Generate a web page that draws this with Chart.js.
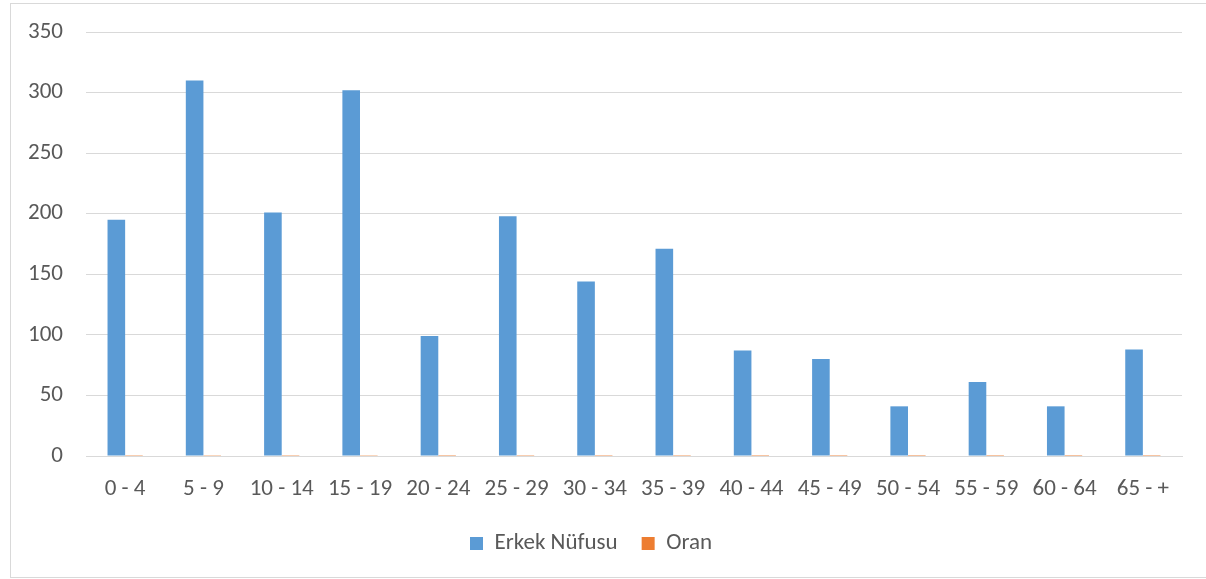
<!DOCTYPE html>
<html>
<head>
<meta charset="utf-8">
<script src="https://cdn.jsdelivr.net/npm/chart.js@4/dist/chart.umd.min.js"></script>
<style>
html,body{margin:0;padding:0;background:#fff;}
#wrap{position:relative;width:1206px;height:579px;}
#frame{position:absolute;left:10px;top:3px;width:1200px;height:575px;border:1px solid #d9d9d9;box-sizing:border-box;}
canvas{position:absolute;left:0;top:0;}
</style>
</head>
<body>
<div id="wrap">
<div id="frame"></div>
<canvas id="c" width="1206" height="579"></canvas>
</div>
<script>
const categories = ["0 - 4","5 - 9","10 - 14","15 - 19","20 - 24","25 - 29","30 - 34","35 - 39","40 - 44","45 - 49","50 - 54","55 - 59","60 - 64","65 - +"];
const erkekNufusu = [195,310,201,302,99,198,144,171,87,80,41,61,41,88];
const oran = [0.10,0.15,0.10,0.15,0.05,0.10,0.07,0.08,0.04,0.04,0.02,0.03,0.02,0.04];
const yTicks = [0,50,100,150,200,250,300,350];

const FONT = "Carlito, Calibri, Lato, 'Open Sans', sans-serif";
const TXT = '#595959';

new Chart(document.getElementById('c'), {
  type: 'bar',
  data: {
    labels: categories,
    datasets: [
      {label: 'Erkek Nüfusu', data: erkekNufusu, backgroundColor: '#5b9bd5', borderWidth: 0},
      {label: 'Oran', data: oran, backgroundColor: '#ed7d31', borderWidth: 0}
    ]
  },
  options: {
    responsive: false,
    animation: false,
    devicePixelRatio: 1,
    layout: {padding: {left: 0, right: 24, top: 32, bottom: 14}},
    datasets: {bar: {categoryPercentage: 0.45, barPercentage: 1}},
    plugins: {
      legend: {
        position: 'bottom',
        labels: {
          font: {family: FONT, size: 23},
          color: TXT,
          boxWidth: 13,
          boxHeight: 13,
          padding: 24,
          useBorderRadius: false
        }
      },
      tooltip: {enabled: false}
    },
    scales: {
      x: {
        grid: {display: false, drawTicks: false},
        border: {display: true, color: '#d9d9d9', width: 1},
        ticks: {font: {family: FONT, size: 23}, color: TXT, padding: 19, maxRotation: 0, autoSkip: false},
        afterFit: s => { s.height = 52; }
      },
      y: {
        min: 0, max: 350,
        afterBuildTicks: s => { s.ticks = yTicks.map(v => ({value: v})); },
        grid: {color: '#d9d9d9', lineWidth: 1, drawTicks: false},
        border: {display: false},
        ticks: {font: {family: FONT, size: 23}, color: TXT, padding: 23},
        afterFit: s => { s.width = 86; s.paddingTop = 0; s.paddingBottom = 0; }
      }
    }
  }
});
</script>
</body>
</html>
